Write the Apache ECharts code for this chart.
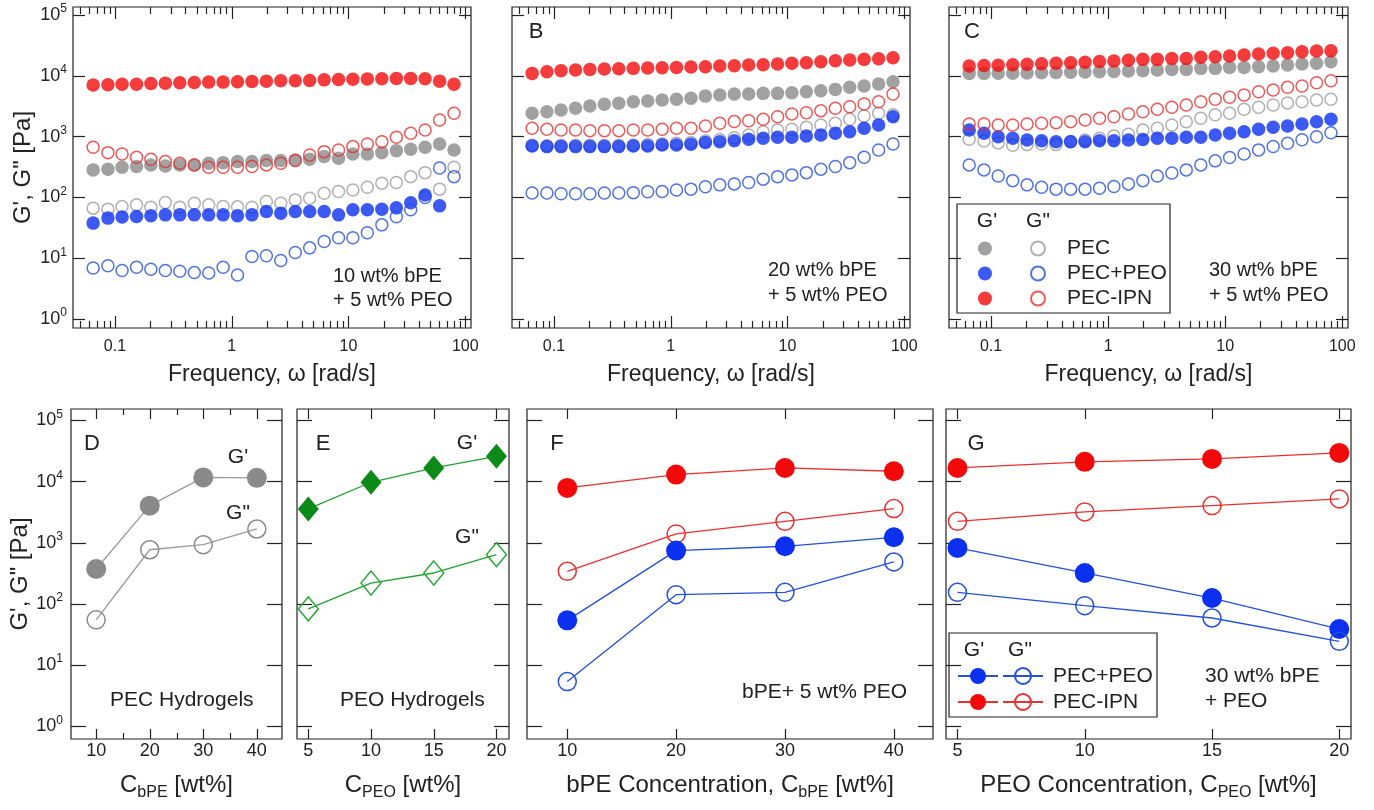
<!DOCTYPE html>
<html>
<head>
<meta charset="utf-8">
<title>G', G" moduli</title>
<script src="https://cdn.jsdelivr.net/npm/echarts@6.0.0/dist/echarts.min.js"></script>
<style>
  html, body { margin: 0; padding: 0; background: #fff; }
  #container { width: 1374px; height: 810px; }
</style>
</head>
<body>
<div id="container"></div>
<script>
// ---------- data ----------
// frequency sweep, rad/s
var freq = [0.065, 0.087, 0.115, 0.153, 0.203, 0.27, 0.359, 0.478, 0.635, 0.844, 1.12, 1.49, 1.98,
            2.63, 3.5, 4.65, 6.19, 8.22, 10.9, 14.5, 19.3, 25.7, 34.1, 45.3, 60.3, 80.1];
var freqTicks = [0.1, 1, 10, 100];
var modTicks = [1, 10, 100, 1000, 10000, 100000];

// A: 10 wt% bPE + 5 wt% PEO
var aPecG1 = [284, 292, 314, 322, 343, 330, 343, 343, 366, 374, 389, 389, 404, 404, 414, 426, 470, 442, 520, 520, 546, 589, 621, 670, 759, 605];
var aPecG2 = [66.7, 64.2, 70.8, 75.5, 69.2, 82.4, 69.2, 80.5, 75.5, 70.8, 70, 69.2, 85.6, 80.5, 91.2, 97.3, 117, 125, 133, 147, 172, 176, 220, 256, 137, 314];
var aPeoG1 = [37.8, 45.7, 47.5, 48.5, 49.8, 51.7, 51.7, 51.7, 51.7, 51.7, 49.8, 51.7, 58.6, 55.2, 58.6, 58.6, 58.6, 51.7, 62.5, 62.5, 64, 67.4, 82, 110, 72.7, null];
var aPeoG2 = [6.9, 7.5, 6.3, 7.1, 6.6, 6.3, 6.1, 5.8, 5.7, 7.1, 5.3, 10.7, 11.0, 9.2, 12.4, 14.8, 18.8, 21.7, 21.7, 26.2, 35.4, 48, 62.5, 100, 306, 220];
var aIpnG1 = [7100, 7150, 7300, 7300, 7500, 7600, 7700, 7800, 7900, 7900, 8000, 8100, 8200, 8300, 8300, 8400, 8600, 8700, 8800, 8900, 9000, 9100, 9100, 9000, 8200, 7300];
var aIpnG2 = [670, 546, 520, 459, 426, 389, 366, 343, 314, 314, 314, 322, 343, 366, 404, 500, 567, 605, 686, 759, 828, 977, 1138, 1289, 1885, 2425];

// B: 20 wt% bPE + 5 wt% PEO
var bPecG1 = [2430, 2580, 2750, 2930, 3200, 3410, 3540, 3760, 3860, 4010, 4120, 4280, 4650, 4850, 5040, 5040, 5160, 5160, 5290, 5500, 5700, 6000, 6500, 6800, 7350, 8000];
var bPecG2 = [720, 710, 720, 720, 720, 720, 720, 730, 740, 760, 780, 800, 850, 900, 960, 1067, 1209, 1290, 1324, 1427, 1559, 1663, 1933, 2190, 2426, 2300];
var bPeoG1 = [704, 686, 686, 686, 686, 686, 686, 704, 704, 731, 731, 750, 800, 828, 860, 907, 943, 979, 979, 1028, 1067, 1138, 1209, 1375, 1559, 2133];
var bPeoG2 = [118, 118, 115, 115, 115, 118, 118, 120, 124, 125, 133, 137, 150, 161, 167, 176, 200, 220, 235, 256, 292, 322, 374, 459, 605, 759];
var bIpnG1 = [11000, 11700, 12200, 12500, 12800, 13000, 13100, 13300, 13500, 13600, 13800, 14000, 14100, 14500, 14700, 15100, 15200, 15700, 16100, 16400, 17100, 17800, 18200, 18700, 19200, 19900];
var bIpnG2 = [1375, 1324, 1290, 1290, 1256, 1256, 1256, 1290, 1290, 1324, 1375, 1375, 1500, 1660, 1770, 1830, 1930, 2130, 2360, 2480, 2680, 2930, 3110, 3450, 3760, 5040];

// C: 30 wt% bPE + 5 wt% PEO
var cPecG1 = [11000, 11000, 11100, 11100, 11200, 11300, 11400, 11500, 11600, 11700, 11800, 12000, 12200, 12500, 12800, 12800, 13300, 13300, 13800, 13800, 14100, 14500, 15100, 15700, 16100, 17100];
var cPecG2 = [907, 850, 790, 720, 740, 759, 740, 830, 880, 940, 1030, 1100, 1290, 1375, 1559, 1766, 2008, 2290, 2426, 2822, 3044, 3319, 3593, 3762, 4010, 4119];
var cPeoG1 = [1290, 1138, 1000, 943, 883, 860, 828, 828, 828, 860, 860, 883, 900, 943, 943, 979, 979, 1067, 1138, 1209, 1324, 1429, 1500, 1618, 1766, 1933];
var cPeoG2 = [343, 284, 226, 189, 161, 147, 137, 137, 137, 142, 151, 167, 189, 226, 252, 284, 343, 400, 455, 520, 606, 690, 780, 890, 1000, 1160];
var cIpnG1 = [14500, 14800, 15000, 15300, 15500, 15800, 16100, 16500, 16800, 17200, 17600, 18100, 18700, 18700, 19400, 19400, 20200, 20700, 21200, 22000, 22900, 23500, 24000, 25000, 25600, 25900];
var cIpnG2 = [1618, 1618, 1559, 1559, 1618, 1663, 1700, 1766, 1883, 2008, 2133, 2362, 2578, 2822, 3044, 3319, 3762, 4119, 4444, 4850, 5495, 5858, 6485, 6810, 7720, 8330];

// D-G: plateau moduli vs composition
var bpeConc = [10, 20, 30, 40];
var peoConc = [5, 10, 15, 20];
var dPecG1 = [373, 4040, 11700, 11500];
var dPecG2 = [55, 770, 930, 1680];
var ePeoG1 = [3570, 9750, 16700, 25900];
var ePeoG2 = [83, 220, 321, 640];
var fPeoG1 = [54, 745, 877, 1230];
var fPeoG2 = [5.4, 142, 155, 486];
var fIpnG1 = [7880, 13000, 16700, 14750];
var fIpnG2 = [342, 1394, 2245, 3620];
var gPeoG1 = [824, 321, 125, 39];
var gPeoG2 = [155, 94, 59, 24.5];
var gIpnG1 = [16700, 21000, 23500, 29400];
var gIpnG2 = [2245, 3190, 4050, 5210];

// ---------- styling ----------
var FONT = "'Liberation Sans', Arial, Helvetica, sans-serif";
var INK = '#222';
var GRAY = '#8a8a8a', GRAY_O = '#9c9c9c';
var BLUE = '#0b30f0', BLUE_O = '#2450dc';
var RED = '#f20a0a', RED_O = '#e83030';
var GREEN = '#0c8a18', GREEN_O = '#2aa838';

// minor ticks of the log frequency axis (2..9 of each decade)
var freqMinor = [];
[0.01, 0.1, 1, 10].forEach(function (d) {
    for (var k = 2; k <= 9; k++) {
        var v = +(d * k).toPrecision(2);
        if (v > 0.044 && v < 112) freqMinor.push(v);
    }
});

var grids = [], xAxes = [], yAxes = [], series = [], tickLines = [];

function yTickAxis(grid, pos, range, len) {
    return {
        type: 'log', gridIndex: grid, position: pos,
        min: range[0], max: range[1],
        axisLine: { show: false, onZero: false },
        splitLine: { show: false },
        axisTick: { show: true, inside: true, length: len, customValues: modTicks,
                    lineStyle: { color: INK, width: 1.2 } },
        axisLabel: { show: false }
    };
}

// x ticks drawn as short inward lines on the bottom and top frame edges
function xTicks(p, values, len) {
    var f = p.xType === 'log' ? Math.log10 : function (v) { return v; };
    var lo = f(p.xRange[0]), hi = f(p.xRange[1]);
    var left = p.box[0], width = p.box[2], top = p.box[1], bottom = p.box[1] + p.box[3];
    values.forEach(function (v) {
        var px = Math.round(left + width * (f(v) - lo) / (hi - lo)) + 0.5;
        tickLines.push({ type: 'line', silent: true, z: 4,
                         shape: { x1: px, y1: bottom, x2: px, y2: bottom - len },
                         style: { stroke: INK, lineWidth: 1.2 } });
        tickLines.push({ type: 'line', silent: true, z: 4,
                         shape: { x1: px, y1: top, x2: px, y2: top + len },
                         style: { stroke: INK, lineWidth: 1.2 } });
    });
}

var supRich = { s: { fontSize: 12, lineHeight: 12, verticalAlign: 'top', fontFamily: FONT, color: INK } };
var subRich = { sub: { fontSize: 16, lineHeight: 14, verticalAlign: 'bottom', fontFamily: FONT, color: INK } };

function addPanel(p) {
    var g = grids.length;
    grids.push({ left: p.box[0], top: p.box[1], width: p.box[2], height: p.box[3],
                 show: true, borderColor: INK, borderWidth: 1.2 });
    var xi = xAxes.length, yi = yAxes.length;

    xAxes.push({
        type: p.xType, gridIndex: g, min: p.xRange[0], max: p.xRange[1],
        axisLine: { show: false }, splitLine: { show: false }, axisTick: { show: false },
        axisLabel: { show: true, customValues: p.xMajor, margin: p.labelMargin, fontSize: p.xFont,
                     color: INK, fontFamily: FONT,
                     formatter: function (v) { return String(+(+v).toPrecision(3)); } },
        name: p.xName, nameLocation: 'middle', nameGap: p.nameGap,
        nameTextStyle: { fontSize: p.nameFont, lineHeight: p.nameLine, color: INK, fontFamily: FONT, rich: subRich }
    });

    var ym = yTickAxis(g, 'left', p.yRange, p.yLen);
    if (p.yLabels) {
        ym.axisLabel = { show: true, customValues: modTicks, margin: p.yMargin, fontSize: 18, lineHeight: 24,
                         color: INK, fontFamily: FONT, rich: supRich,
                         formatter: function (v) { return '10{s|' + Math.round(Math.log10(v)) + '}'; } };
        ym.name = 'G\', G" [Pa]';
        ym.nameLocation = 'middle';
        ym.nameRotate = 90;
        ym.nameGap = 38;
        ym.nameTextStyle = { fontSize: 24, color: INK, fontFamily: FONT };
    }
    yAxes.push(ym);
    yAxes.push(yTickAxis(g, 'right', p.yRange, p.yLen));

    xTicks(p, p.xMajor, p.majorLen);
    if (p.xMinor.length) xTicks(p, p.xMinor, p.minorLen);
    return { x: xi, y: yi };
}

function pairs(xs, ys) {
    return xs.map(function (x, i) { return [x, ys[i]]; })
             .filter(function (d) { return d[1] !== null; });
}

function dots(ax, name, ys, color, open) {
    series.push({
        type: 'scatter', name: name, xAxisIndex: ax.x, yAxisIndex: ax.y,
        data: pairs(freq, ys), symbol: 'circle', symbolSize: open ? 12 : 13.5,
        itemStyle: open ? { color: 'rgba(255,255,255,0)', borderColor: color, borderWidth: 1.5 }
                        : { color: color },
        emphasis: { disabled: true }, silent: true
    });
}

function curve(ax, name, xs, ys, color, lineColor, open, symbol, size) {
    series.push({
        type: 'line', name: name, xAxisIndex: ax.x, yAxisIndex: ax.y,
        data: pairs(xs, ys), symbol: symbol, symbolSize: size, showSymbol: true,
        lineStyle: { color: lineColor, width: 1.3 },
        itemStyle: open ? { color: 'rgba(255,255,255,0)', borderColor: color, borderWidth: 1.5 }
                        : { color: color, borderWidth: 0 },
        emphasis: { disabled: true }, silent: true
    });
}

// ---------- panels ----------
var freqRange = [0.0437, 112];
var topY = [0.711, 136000];
var botY = [0.622, 153500];
var freqName = 'Frequency, ω [rad/s]';

function extend(base, more) {
    var o = {};
    for (var k in base) o[k] = base[k];
    for (var j in more) o[j] = more[j];
    return o;
}

var topCommon = { xType: 'log', xRange: freqRange, xMajor: freqTicks, xMinor: freqMinor,
                  majorLen: 12, minorLen: 7, yLen: 12, yRange: topY, xFont: 16, labelMargin: 11,
                  nameGap: 33, nameFont: 23, nameLine: 28, xName: freqName, yMargin: 6 };

var axA = addPanel(extend(topCommon, { box: [73, 7, 398, 321], yLabels: true }));
var axB = addPanel(extend(topCommon, { box: [512, 7, 398, 321] }));
var axC = addPanel(extend(topCommon, { box: [949, 7, 399, 321] }));

var botCommon = { xType: 'value', majorLen: 10, minorLen: 6, yLen: 15, yRange: botY, xFont: 18,
                  labelMargin: 3, nameGap: 30, nameFont: 24, nameLine: 32, yMargin: 8, xMinor: [] };

var axD = addPanel(extend(botCommon, { box: [71, 409, 211, 330], xRange: [5.3, 44.7], xMajor: bpeConc,
                                       xMinor: [15, 25, 35], xName: 'C{sub|bPE} [wt%]', yLabels: true }));
var axE = addPanel(extend(botCommon, { box: [297, 409, 212, 330], xRange: [4.1, 21], xMajor: peoConc,
                                       xName: 'C{sub|PEO} [wt%]' }));
var axF = addPanel(extend(botCommon, { box: [527, 409, 406, 330], xRange: [6.3, 43.6], xMajor: bpeConc,
                                       xName: 'bPE Concentration, C{sub|bPE} [wt%]' }));
var axG = addPanel(extend(botCommon, { box: [946, 409, 405, 330], xRange: [4.55, 20.46], xMajor: peoConc,
                                       xName: 'PEO Concentration, C{sub|PEO} [wt%]' }));

// frequency sweeps
[[axA, aPecG1, aPecG2, aPeoG1, aPeoG2, aIpnG1, aIpnG2],
 [axB, bPecG1, bPecG2, bPeoG1, bPeoG2, bIpnG1, bIpnG2],
 [axC, cPecG1, cPecG2, cPeoG1, cPeoG2, cIpnG1, cIpnG2]].forEach(function (s) {
    dots(s[0], "PEC G'", s[1], GRAY, false);
    dots(s[0], 'PEC G"', s[2], GRAY_O, true);
    dots(s[0], "PEC+PEO G'", s[3], BLUE, false);
    dots(s[0], 'PEC+PEO G"', s[4], BLUE_O, true);
    dots(s[0], "PEC-IPN G'", s[5], RED, false);
    dots(s[0], 'PEC-IPN G"', s[6], RED_O, true);
});

// composition panels
curve(axD, "PEC gel G'", bpeConc, dPecG1, GRAY, '#9a9a9a', false, 'circle', 20);
curve(axD, 'PEC gel G"', bpeConc, dPecG2, '#8a8a8a', '#9a9a9a', true, 'circle', 18);
curve(axE, "PEO gel G'", peoConc, ePeoG1, GREEN, '#22a02e', false, 'diamond', [21, 25]);
curve(axE, 'PEO gel G"', peoConc, ePeoG2, GREEN_O, '#22a02e', true, 'diamond', [20, 24]);
curve(axF, "PEC-IPN G' (bPE)", bpeConc, fIpnG1, RED, RED_O, false, 'circle', 20);
curve(axF, 'PEC-IPN G" (bPE)', bpeConc, fIpnG2, RED_O, RED_O, true, 'circle', 18);
curve(axF, "PEC+PEO G' (bPE)", bpeConc, fPeoG1, BLUE, BLUE_O, false, 'circle', 20);
curve(axF, 'PEC+PEO G" (bPE)', bpeConc, fPeoG2, BLUE_O, BLUE_O, true, 'circle', 18);
curve(axG, "PEC-IPN G' (PEO)", peoConc, gIpnG1, RED, RED_O, false, 'circle', 20);
curve(axG, 'PEC-IPN G" (PEO)', peoConc, gIpnG2, RED_O, RED_O, true, 'circle', 18);
curve(axG, "PEC+PEO G' (PEO)", peoConc, gPeoG1, BLUE, BLUE_O, false, 'circle', 20);
curve(axG, 'PEC+PEO G" (PEO)', peoConc, gPeoG2, BLUE_O, BLUE_O, true, 'circle', 18);

// ---------- legends ----------
function shortName(n) { return n.split(' G')[0]; }
var legendText = { fontSize: 21, lineHeight: 25, color: INK, fontFamily: FONT };

var legends = [
    { data: ["PEC G'", "PEC+PEO G'", "PEC-IPN G'"], left: 978, top: 236, itemWidth: 14, itemHeight: 14,
      formatter: function () { return ' '; }, textStyle: legendText },
    { data: ['PEC G"', 'PEC+PEO G"', 'PEC-IPN G"'], left: 1030, top: 236, itemWidth: 14, itemHeight: 14,
      formatter: shortName, textStyle: extend(legendText, { padding: [0, 0, 0, 17] }) },
    { data: ["PEC+PEO G' (PEO)", "PEC-IPN G' (PEO)"], left: 957, top: 663, itemWidth: 40, itemHeight: 20,
      formatter: function () { return ' '; }, textStyle: extend(legendText, { lineHeight: 26 }) },
    { data: ['PEC+PEO G" (PEO)', 'PEC-IPN G" (PEO)'], left: 1002, top: 663, itemWidth: 40, itemHeight: 20,
      formatter: shortName, textStyle: extend(legendText, { lineHeight: 26, padding: [0, 0, 0, 5] }) }
].map(function (l) {
    l.orient = 'vertical';
    l.itemGap = 0;
    l.padding = 0;
    l.selectedMode = false;
    return l;
});

// ---------- free text ----------
function txt(t, x, y, size, align) {
    return { type: 'text', x: x, y: y, silent: true, z: 10,
             style: { text: t, fill: INK, fontSize: size, fontFamily: FONT,
                      align: align || 'left', textAlign: align || 'left',
                      verticalAlign: 'middle', textVerticalAlign: 'middle' } };
}
function box(x, y, w, h) {
    return { type: 'rect', silent: true, z: 5, shape: { x: x, y: y, width: w, height: h },
             style: { fill: 'none', stroke: INK, lineWidth: 1.2 } };
}

var graphics = [
    txt('B', 536, 32, 22, 'center'),
    txt('C', 972, 32, 22, 'center'),
    txt('D', 92, 444, 22, 'center'),
    txt('E', 323, 444, 22, 'center'),
    txt('F', 557, 444, 22, 'center'),
    txt('G', 976, 444, 22, 'center'),
    txt('10 wt% bPE', 333, 276, 20),
    txt('+ 5 wt% PEO', 333, 300, 20),
    txt('20 wt% bPE', 768, 270, 20),
    txt('+ 5 wt% PEO', 768, 295, 20),
    txt('30 wt% bPE', 1209, 270, 20),
    txt('+ 5 wt% PEO', 1209, 295, 20),
    txt('PEC Hydrogels', 110, 700, 21),
    txt('PEO Hydrogels', 340, 700, 21),
    txt("G'", 238, 457, 21, 'center'),
    txt('G"', 238, 513, 21, 'center'),
    txt("G'", 467, 443, 21, 'center'),
    txt('G"', 467, 537, 21, 'center'),
    txt('bPE+ 5 wt% PEO', 742, 692, 21),
    txt('30 wt% bPE', 1205, 676, 21),
    txt('+ PEO', 1205, 701, 21),
    // legend frames and column heads
    box(957, 204, 213, 109),
    txt("G'", 987, 221, 21, 'center'),
    txt('G"', 1038, 221, 21, 'center'),
    box(949, 633, 208, 84),
    txt("G'", 974, 650, 21, 'center'),
    txt('G"', 1020, 650, 21, 'center')
].concat(tickLines);

var myChart = echarts.init(document.getElementById('container'), null, { renderer: 'canvas' });
var option = {
    animation: false,
    backgroundColor: '#fff',
    textStyle: { fontFamily: FONT },
    grid: grids,
    xAxis: xAxes,
    yAxis: yAxes,
    legend: legends,
    graphic: graphics,
    series: series
};
myChart.setOption(option);
</script>
</body>
</html>
